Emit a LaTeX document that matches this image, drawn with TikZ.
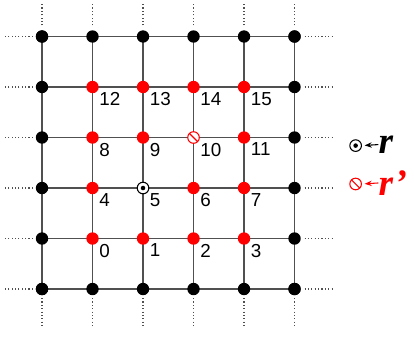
\documentclass[tikz,border=0pt]{standalone}
\usepackage{fontspec}
\setmainfont{Liberation Sans}
\newfontfamily\rfont{Liberation Serif}
\usetikzlibrary{arrows.meta, positioning}
\definecolor{gridgray}{RGB}{80,80,80}
\definecolor{sitered}{RGB}{255,0,0}

\begin{document}
\begin{tikzpicture}[
    site/.style={circle, fill=black, inner sep=0pt, minimum size=0.245cm},
    redsite/.style={site, fill=sitered},
    odot/.style={circle, draw, fill=white, line width=0.6pt, inner sep=0pt, minimum size=0.23cm,
        path picture={\fill[black] (path picture bounding box.center) circle (0.045cm);}},
    slashed/.style={circle, draw=sitered, fill=white, line width=0.6pt, inner sep=0pt, minimum size=0.23cm,
        path picture={\draw[sitered, line width=0.6pt] (path picture bounding box.north west) -- (path picture bounding box.south east);}},
    numlabel/.style={anchor=north west, inner sep=0pt, font=\fontsize{10.6}{12}\selectfont},
    bond/.style={gridgray, line width=0.8pt},
    ext/.style={gridgray, line width=0.6pt, dash pattern=on 0.6pt off 1.3pt},
    symtext/.style={inner sep=0pt, font=\rfont\fontsize{21}{24}\selectfont\bfseries\itshape}
]
\useasboundingbox (-0.832,-0.950) rectangle (7.366,5.723);

% lattice points
\foreach \i in {0,...,5}
    \foreach \j in {0,...,5}
        \coordinate (p\i\j) at (\i,\j);

% bonds
\foreach \k in {0,...,5}
{
    \draw[bond] (p0\k) -- (p5\k);
    \draw[bond] (p\k0) -- (p\k5);
}

% dotted continuations
\foreach \k in {0,...,5}
{
    \draw[ext] ([yshift=0.22cm]p\k5) -- ([yshift=0.66cm]p\k5);
    \draw[ext] ([yshift=-0.18cm]p\k0) -- ([yshift=-0.72cm]p\k0);
    \draw[ext] ([xshift=-0.18cm]p0\k) -- ([xshift=-0.73cm]p0\k);
    \draw[ext] ([xshift=0.2cm]p5\k) -- ([xshift=0.76cm]p5\k);
}

% boundary sites
\foreach \k in {0,...,5}
{
    \node[site] (b0\k) at (p0\k) {};
    \node[site] (b5\k) at (p5\k) {};
    \node[site] (b\k0) at (p\k0) {};
    \node[site] (b\k5) at (p\k5) {};
}

% inner sites with their numbers
\foreach \i in {1,...,4}
    \foreach \j in {1,...,4}
    {
        \pgfmathtruncatemacro\n{(\j-1)*4+\i-1}
        \ifnum\n=5
            \node[odot] (s\n) at (p\i\j) {};
        \else\ifnum\n=10
            \node[slashed] (s\n) at (p\i\j) {};
        \else
            \node[redsite] (s\n) at (p\i\j) {};
        \fi\fi
        \node[numlabel] (n\n) at ([xshift=0.13cm,yshift=-0.1cm]p\i\j) {\n};
    }

% legend
\node[odot] (rsym) at (6.21,2.84) {};
\node[symtext, anchor=west] (rtext) at (6.66,2.86) {r};
\draw[-{Stealth[length=4pt,width=3pt]}, line width=0.6pt, shorten >=1.5pt] (rtext.west) -- (rsym.east);

\node[slashed] (rpsym) at (6.21,2.08) {};
\node[symtext, anchor=west, text=sitered] (rptext) at (6.66,2.10) {r’};
\draw[-{Stealth[length=4pt,width=3pt]}, sitered, line width=0.6pt, shorten >=1.5pt] (rptext.west) -- (rpsym.east);

\end{tikzpicture}
\end{document}
